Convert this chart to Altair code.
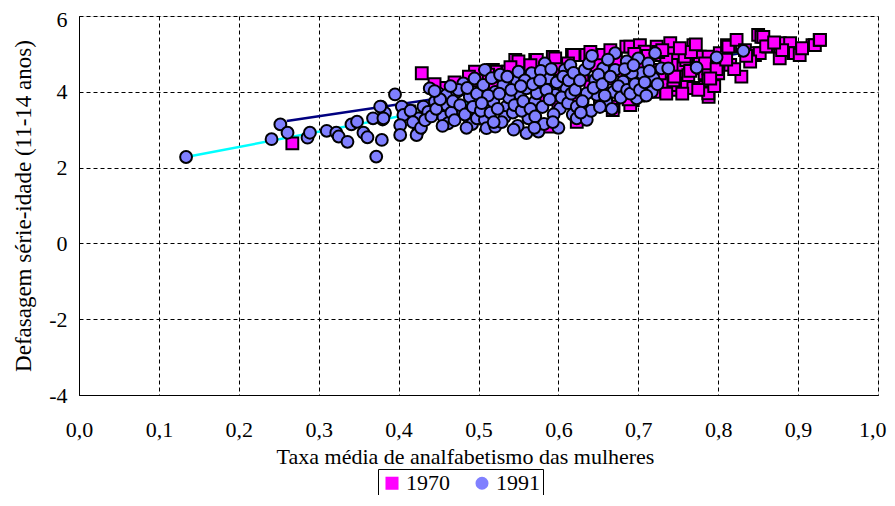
import altair as alt
import pandas as pd

# ---- 1970 series (magenta squares) ----
x1970 = [0.267, 0.413, 0.429, 0.4956, 0.5895, 0.518, 0.523, 0.536, 0.537, 0.546, 0.550, 0.571,
         0.573, 0.593, 0.596, 0.617, 0.619, 0.635, 0.656, 0.685, 0.690, 0.702, 0.708, 0.723,
         0.729, 0.719, 0.740, 0.744, 0.750, 0.760, 0.760, 0.758, 0.7375, 0.727, 0.773, 0.769,
         0.777, 0.783, 0.788, 0.788, 0.781, 0.7835, 0.7876, 0.7876, 0.802, 0.811, 0.815, 0.815,
         0.8127, 0.823, 0.829, 0.8335, 0.846, 0.848, 0.850, 0.852, 0.854, 0.8565, 0.8627, 0.877,
         0.877, 0.890, 0.894, 0.896, 0.902, 0.918, 0.921, 0.927, 0.9274, 0.692, 0.710, 0.693,
         0.744, 0.669, 0.652, 0.623, 0.668, 0.690, 0.7626, 0.7417, 0.746, 0.758, 0.800, 0.800,
         0.744, 0.769, 0.7835, 0.7876, 0.798, 0.766, 0.735, 0.715, 0.705, 0.698, 0.680, 0.672,
         0.662, 0.648, 0.640, 0.630, 0.612, 0.605, 0.598, 0.585, 0.578, 0.565, 0.558, 0.552,
         0.540, 0.528, 0.512, 0.505, 0.498, 0.488, 0.470, 0.455, 0.445, 0.520, 0.550, 0.580,
         0.610, 0.630, 0.660, 0.675, 0.700, 0.720, 0.735, 0.755, 0.775, 0.795, 0.820, 0.840,
         0.860, 0.880, 0.905, 0.725, 0.745, 0.765, 0.790, 0.810, 0.835, 0.870, 0.712, 0.688,
         0.655, 0.625, 0.600, 0.575, 0.545, 0.515, 0.640, 0.665, 0.695, 0.730, 0.752, 0.772]
y1970 = [2.64, 3.48, 4.49, 4.53, 3.08, 4.58, 4.53, 4.52, 4.53, 4.84, 4.80, 4.84,
         4.84, 4.92, 4.88, 4.97, 4.97, 4.97, 4.97, 5.19, 5.19, 5.23, 5.06, 5.19,
         4.97, 4.58, 5.28, 5.02, 4.66, 4.84, 4.40, 4.22, 4.22, 4.49, 4.62, 5.23,
         4.93, 4.49, 4.93, 3.87, 4.09, 4.13, 3.96, 4.62, 5.02, 5.23, 5.19, 4.71,
         5.19, 5.37, 4.40, 5.10, 4.97, 5.02, 5.50, 5.02, 5.45, 5.45, 5.19, 5.28,
         4.88, 5.28, 5.02, 5.02, 4.97, 5.23, 5.23, 5.37, 5.37, 4.13, 4.13, 3.78,
         4.05, 3.61, 3.65, 3.21, 3.52, 3.65, 4.44, 4.71, 4.18, 4.93, 4.80, 4.49,
         4.30, 4.10, 4.75, 4.30, 4.60, 5.05, 4.85, 4.40, 4.70, 4.25, 4.55, 4.85,
         4.35, 4.70, 4.20, 4.45, 4.75, 4.30, 4.60, 4.15, 4.45, 4.70, 4.20, 4.40,
         4.65, 4.35, 4.45, 4.15, 4.30, 4.40, 4.25, 4.10, 4.20, 4.10, 4.00, 4.25,
         4.00, 3.85, 3.95, 4.05, 3.90, 4.00, 3.95, 3.95, 4.05, 4.15, 4.60, 4.80,
         5.20, 5.10, 5.15, 5.05, 4.40, 4.55, 4.35, 4.85, 4.95, 5.30, 4.95, 3.80,
         3.80, 3.90, 3.70, 3.80, 3.75, 3.90, 5.05, 5.10, 5.00, 5.10, 5.15, 5.25]

# ---- 1991 series (blue circles) ----
x1991 = [0.134, 0.241, 0.252, 0.261, 0.286, 0.289, 0.310, 0.322, 0.325, 0.336, 0.341, 0.348,
         0.356, 0.361, 0.372, 0.379, 0.378, 0.380, 0.368, 0.383, 0.3955, 0.404, 0.406, 0.402,
         0.402, 0.381, 0.377,
         0.425, 0.425, 0.4225, 0.431, 0.437, 0.439, 0.4455, 0.450, 0.456, 0.460, 0.462, 0.460,
         0.473, 0.479, 0.481, 0.489, 0.489, 0.415, 0.418, 0.428, 0.433, 0.441, 0.447, 0.452,
         0.455, 0.466, 0.468, 0.470, 0.475, 0.477, 0.483, 0.486, 0.493, 0.495, 0.498, 0.492,
         0.445, 0.465, 0.485, 0.498,
         0.508, 0.506, 0.5165, 0.521, 0.5185, 0.508, 0.510, 0.521, 0.535, 0.533, 0.531, 0.548,
         0.550, 0.552, 0.560, 0.5665, 0.5625, 0.560, 0.503, 0.512, 0.515, 0.524, 0.527, 0.529,
         0.538, 0.541, 0.543, 0.545, 0.549, 0.554, 0.556, 0.558, 0.504, 0.519, 0.536, 0.526,
         0.544, 0.553,
         0.575, 0.5707, 0.573, 0.583, 0.5875, 0.596, 0.602, 0.608, 0.610, 0.565, 0.568, 0.571,
         0.578, 0.580, 0.582, 0.585, 0.589, 0.591, 0.594, 0.598, 0.600, 0.604, 0.606, 0.612,
         0.615, 0.616, 0.618, 0.570, 0.577, 0.593, 0.613, 0.619,
         0.671, 0.6855, 0.700, 0.721, 0.7125, 0.704, 0.719, 0.729, 0.717, 0.698, 0.692, 0.671,
         0.656, 0.669, 0.646, 0.633, 0.648, 0.6355, 0.621, 0.623, 0.623, 0.6355, 0.660, 0.681,
         0.627, 0.630, 0.638, 0.641, 0.644, 0.650, 0.652, 0.655, 0.658, 0.662, 0.665, 0.667,
         0.675, 0.678, 0.683, 0.686, 0.690, 0.694, 0.696, 0.702, 0.708, 0.710, 0.714, 0.724,
         0.642, 0.628,
         0.7375, 0.773, 0.798, 0.8315]
y1991 = [2.28, 2.75, 3.14, 2.92, 2.79, 2.92, 2.97, 2.92, 2.82, 2.68, 3.14, 3.21,
         2.92, 2.80, 2.29, 2.73, 3.61, 3.27, 3.30, 3.44, 3.93, 3.61, 3.39, 3.12,
         2.86, 3.30, 3.61,
         3.30, 2.99, 2.86, 3.61, 3.47, 4.09, 3.74, 3.96, 3.34, 3.65, 3.17, 3.92,
         4.00, 3.52, 4.22, 3.87, 3.26, 3.50, 3.20, 3.05, 3.25, 3.35, 3.55, 3.80,
         3.10, 3.45, 3.75, 3.25, 4.05, 3.65, 3.40, 4.10, 3.60, 4.35, 3.95, 3.15,
         4.02, 4.15, 3.05, 3.30,
         4.58, 4.18, 4.36, 4.00, 3.74, 3.26, 3.04, 3.08, 3.61, 3.34, 4.18, 4.27,
         4.53, 3.92, 4.09, 4.49, 3.30, 2.91, 3.50, 3.90, 3.45, 3.55, 4.45, 3.20,
         3.85, 4.05, 3.45, 3.65, 3.10, 3.50, 3.75, 4.30, 3.70, 3.20, 4.40, 3.95,
         3.00, 4.15,
         2.95, 3.74, 3.96, 4.75, 4.36, 3.92, 3.56, 4.58, 4.09, 3.55, 4.20, 3.35,
         4.55, 3.60, 3.15, 4.05, 3.80, 4.60, 3.40, 4.25, 3.05, 3.85, 4.40, 3.70,
         4.70, 3.95, 3.40, 3.05, 4.30, 3.20, 4.30, 4.50,
         5.02, 4.80, 4.88, 5.02, 4.75, 4.49, 4.36, 4.62, 4.00, 3.83, 4.49, 4.58,
         4.62, 4.00, 4.31, 4.58, 3.92, 3.96, 4.05, 3.61, 3.30, 3.26, 3.74, 4.27,
         4.30, 3.75, 4.75, 3.50, 4.10, 4.45, 3.60, 4.20, 3.90, 4.85, 4.40, 3.55,
         4.15, 3.85, 4.60, 4.05, 3.95, 4.70, 4.20, 4.05, 4.25, 3.90, 4.55, 4.20,
         4.95, 3.45,
         4.62, 4.64, 4.91, 5.08]

# ---- fitted lines (end points) ----
fit_series = ["1970", "1970", "1991", "1991"]
fit_x = [0.260, 0.927, 0.134, 0.8315]
fit_y = [3.23, 5.33, 2.28, 5.08]
fit_color = ["#000080", "#000080", "#00FFFF", "#00FFFF"]

x_ticks = [0.0, 0.1, 0.2, 0.3, 0.4, 0.5, 0.6, 0.7, 0.8, 0.9, 1.0]
y_ticks = [-4, -2, 0, 2, 4, 6]
series_names = ["1970", "1991"]
series_colors = ["#FF00FF", "#8080FF"]
series_shapes = ["square", "circle"]

pts = pd.DataFrame({
    "x": x1970 + x1991,
    "y": y1970 + y1991,
    "serie": ["1970"] * len(x1970) + ["1991"] * len(x1991),
    "ordem": list(range(len(x1970) + len(x1991))),
})
fits = pd.DataFrame({"x": fit_x, "y": fit_y, "linha": fit_series, "cor": fit_color})

FONT = "Liberation Serif"
FS = 22

xscale = alt.Scale(domain=[0, 1], nice=False, zero=False)
yscale = alt.Scale(domain=[-4, 6], nice=False, zero=False)

xaxis = alt.Axis(values=x_ticks, labelExpr="replace(format(datum.value, '.1f'), '.', ',')",
                 title="Taxa média de analfabetismo das mulheres", titleX=386,
                 grid=True, gridColor="black", gridDash=[4, 3], gridOpacity=1,
                 domainColor="black", ticks=False, labelPadding=24, titlePadding=6,
                 labelFlush=False, labelOverlap=False,
                 labelAlign=alt.ConditionalAxisLabelAlign(
                     condition={"test": "datum.value >= 1", "value": "right"}, value="center"),
                 labelOffset=alt.ConditionalAxisNumber(
                     condition={"test": "datum.value >= 1", "value": 8}, value=0),
                 labelFontSize=FS, titleFontSize=FS, labelFont=FONT, titleFont=FONT,
                 labelColor="black", titleColor="black", titleFontWeight="normal")
yaxis = alt.Axis(values=y_ticks, labelExpr="'' + datum.value",
                 title="Defasagem série-idade (11-14 anos)",
                 grid=True, gridColor="black", gridDash=[4, 3], gridOpacity=1,
                 domainColor="black", ticks=False, labelPadding=12, titlePadding=13,
                 labelFlush=False, labelOverlap=False,
                 labelOffset=alt.ConditionalAxisNumber(
                     condition={"test": "datum.value >= 6", "value": 3}, value=0),
                 labelFontSize=FS, titleFontSize=23, labelFont=FONT, titleFont=FONT,
                 labelColor="black", titleColor="black", titleFontWeight="normal")

legend = alt.Legend(title=None, orient="none", legendX=299, legendY=453,
                    direction="horizontal", strokeColor="black",
                    padding=3, labelFont=FONT, labelFontSize=FS,
                    labelColor="black", symbolSize=170,
                    symbolStrokeColor="black", symbolStrokeWidth=2.5,
                    symbolOpacity=1, columnPadding=20, labelOffset=3)

lines = alt.Chart(fits).mark_line(strokeWidth=2.5).encode(
    x=alt.X("x:Q", scale=xscale, axis=xaxis),
    y=alt.Y("y:Q", scale=yscale, axis=yaxis),
    detail="linha:N",
    stroke=alt.Stroke("cor:N", scale=None, legend=None),
)

points = alt.Chart(pts).mark_point(filled=False, stroke="black", strokeWidth=2,
                                    size=140, opacity=1, fillOpacity=1).encode(
    x=alt.X("x:Q", scale=xscale),
    y=alt.Y("y:Q", scale=yscale),
    fill=alt.Fill("serie:N",
                  scale=alt.Scale(domain=series_names, range=series_colors),
                  legend=legend),
    shape=alt.Shape("serie:N",
                    scale=alt.Scale(domain=series_names, range=series_shapes),
                    legend=legend),
    order="ordem:Q",
)

chart = alt.layer(lines, points).properties(
    width=799, height=379,
    autosize=alt.AutoSizeParams(type="none"),
    padding={"left": 71, "top": 8, "right": 9, "bottom": 100},
).configure_view(stroke="black", strokeWidth=1).configure(font=FONT).configure_legend(
    symbolStrokeColor="black", symbolStrokeWidth=2.5)

chart.save("out.html", embed_options={"renderer": "svg", "actions": False})
